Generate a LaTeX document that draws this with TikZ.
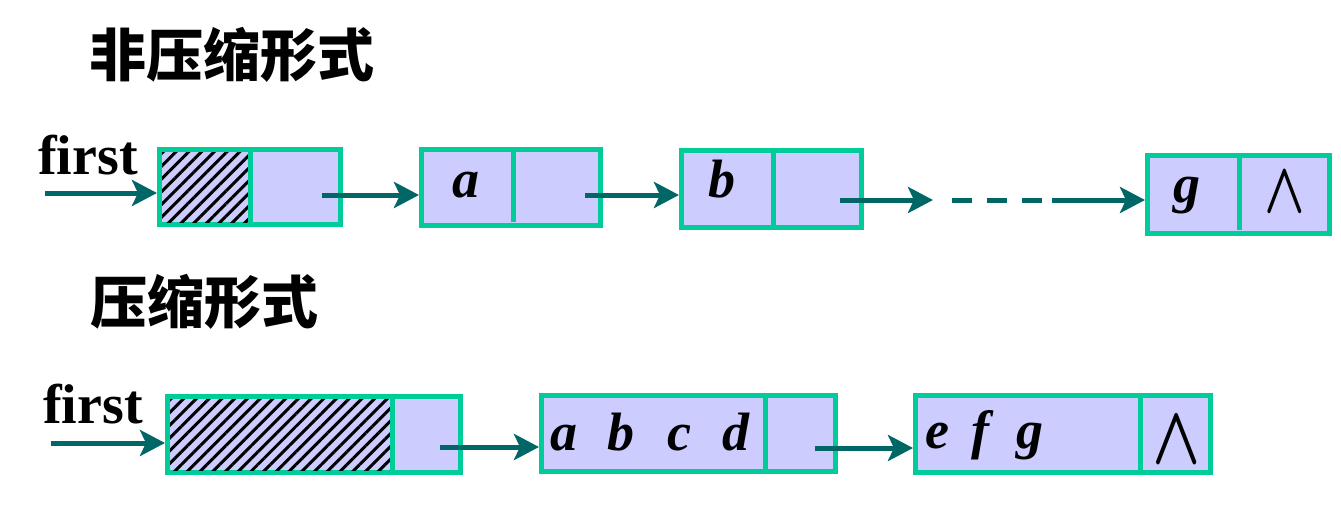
\documentclass[tikz,border=0pt]{standalone}
\usepackage{fontspec}
\setmainfont{Liberation Serif}
\newfontfamily\cjk{Noto Sans CJK SC}
\usetikzlibrary{arrows.meta,patterns.meta}
\definecolor{boxgreen}{RGB}{0,204,153}
\definecolor{cellfill}{RGB}{204,204,255}
\definecolor{arrowteal}{RGB}{0,102,102}
\begin{document}
\begin{tikzpicture}[x=1pt,y=-1pt,
  listbox/.style={draw=boxgreen,line width=5pt,fill=cellfill,inner sep=0pt},
  divline/.style={draw=boxgreen,line width=5pt},
  hatch/.style={pattern={Lines[angle=45,distance=9pt,line width=3pt]},pattern color=black},
  link/.style={draw=arrowteal,line width=5pt,-{Stealth[length=25pt,width=26pt,inset=6pt]}},
  linkplain/.style={draw=arrowteal,line width=5pt},
  datum/.style={inner sep=0pt,anchor=base west,font=\fontsize{54}{54}\selectfont\bfseries\itshape},
  firstlbl/.style={inner sep=0pt,anchor=base west,font=\fontsize{56}{56}\selectfont\bfseries},
  title/.style={inner sep=0pt,anchor=base west,font=\fontsize{57}{57}\selectfont\cjk\bfseries},
  nil/.style={inner sep=0pt}
]
\useasboundingbox (0,0) rectangle (1341,506);

% titles
\node[title] (t1) at (89,76) {非压缩形式};
\node[title] (t2) at (90,323) {压缩形式};

% ---------- row 1 ----------
\node[listbox,minimum width=181pt,minimum height=75pt] (b1) at (250,187) {};
\fill[hatch] (162,152) rectangle (248,222);
\draw[divline] (250,149.5) -- (250,224.5);

\node[listbox,minimum width=179pt,minimum height=76pt] (b2) at (511,187.5) {};
\draw[divline] (513,149.5) -- (513,222);

\node[listbox,minimum width=180pt,minimum height=77pt] (b3) at (771.5,189) {};
\draw[divline] (773,150.5) -- (773,227.5);

\node[listbox,minimum width=182pt,minimum height=78pt] (b4) at (1238.5,194.5) {};
\draw[divline] (1239,155.5) -- (1239,230);

\node[firstlbl] (f1) at (38,174) {first};
\node[datum] (la) at (452,197) {a};
\node[datum] (lb) at (708,197) {b};
\node[datum] (lg) at (1173,202) {g};
\node[nil] (n1) at (1285,192) {\scalebox{5.3}[7.2]{\boldmath$\wedge$}};

\coordinate (s0) at (45,193);
\coordinate (s1) at (322,195);
\coordinate (s2) at (585,195);
\coordinate (s3) at (840,200);
\coordinate (e3) at (933,200);
\coordinate (d0) at (952,200);
\coordinate (d1) at (1042,200);
\coordinate (s4) at (1052,200);

\draw[link] (s0) -- (s0 -| b1.west);
\draw[link] (s1) -- (s1 -| b2.west);
\draw[link] (s2) -- (s2 -| b3.west);
\draw[link] (s3) -- (e3);
\draw[linkplain,dash pattern=on 20pt off 15pt] (d0) -- (d1);
\draw[link] (s4) -- (s4 -| b4.west);

% ---------- row 2 ----------
\node[listbox,minimum width=293pt,minimum height=76pt] (c1) at (314,434.5) {};
\fill[hatch] (170,399) rectangle (390,470);
\draw[divline] (392,396.5) -- (392,472.5);

\node[listbox,minimum width=294pt,minimum height=76pt] (c2) at (688.5,433.5) {};
\draw[divline] (765,395.5) -- (765,470);

\node[listbox,minimum width=295pt,minimum height=77pt] (c3) at (1063,434) {};
\draw[divline] (1140,395.5) -- (1140,470);

\node[firstlbl] (f2) at (43,423) {first};
\node[datum] (labcd) at (550,450) {a\hspace{30pt}b\hspace{33pt}c\hspace{31pt}d};
\node[datum] (lefg) at (925,448) {e\hspace{22pt}f\hspace{27pt}g};
\node[nil] (n2) at (1177,440) {\scalebox{6.3}[8.3]{\boldmath$\wedge$}};

\coordinate (r0) at (51,443);
\coordinate (r1) at (440,447);
\coordinate (r2) at (815,448);

\draw[link] (r0) -- (r0 -| c1.west);
\draw[link] (r1) -- (r1 -| c2.west);
\draw[link] (r2) -- (r2 -| c3.west);
\end{tikzpicture}
\end{document}
